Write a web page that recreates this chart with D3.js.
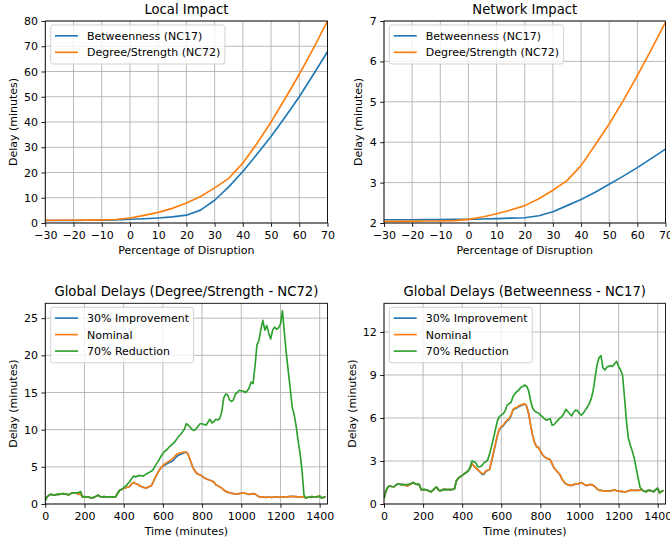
<!DOCTYPE html>
<html>
<head>
<meta charset="utf-8">
<script src="https://cdn.jsdelivr.net/npm/d3@7"></script>
<style>
  body { margin: 0; background: #fff; }
  svg { display: block; font-family: "DejaVu Sans", sans-serif; }
</style>
</head>
<body>
<svg id="fig" width="670" height="544"></svg>
<script>
// ---- data ----
var pct = [-30, -25, -20, -15, -10, -5, 0, 5, 10, 15, 20, 25, 30, 35, 40, 45, 50, 55, 60, 65, 70];
var pctTicks = [-30, -20, -10, 0, 10, 20, 30, 40, 50, 60, 70];

var localBetw = [1.0, 1.02, 1.05, 1.1, 1.15, 1.25, 1.5, 1.7, 2.0, 2.4, 3.1, 5.1, 9.0, 14.3, 20.4, 27.2, 34.3, 42.0, 50.0, 58.8, 67.8];
var localDeg = [1.05, 1.08, 1.1, 1.15, 1.25, 1.4, 2.0, 3.0, 4.2, 5.8, 7.9, 10.5, 13.9, 17.7, 23.7, 31.5, 40.0, 49.3, 58.9, 69.2, 80.0];
var localTicks = [0, 10, 20, 30, 40, 50, 60, 70, 80];

var networkBetw = [2.08, 2.08, 2.08, 2.085, 2.085, 2.09, 2.09, 2.10, 2.11, 2.12, 2.13, 2.18, 2.28, 2.43, 2.58, 2.76, 2.96, 3.16, 3.37, 3.6, 3.83];
var networkDeg = [2.04, 2.04, 2.045, 2.05, 2.05, 2.06, 2.09, 2.15, 2.23, 2.32, 2.43, 2.6, 2.81, 3.05, 3.42, 3.93, 4.45, 5.03, 5.65, 6.3, 6.97];
var networkTicks = [2, 3, 4, 5, 6, 7];

// time in minutes, one sample every 10 minutes
var times = d3.range(0, 1440, 10);
var timeTicks = [0, 200, 400, 600, 800, 1000, 1200, 1400];

var degImprove = [
  0.5, 1.0, 1.2, 1.3, 1.2, 1.2, 1.3, 1.3, 1.35, 1.4, 1.35, 1.3,
  1.25, 1.4, 1.5, 1.5, 1.45, 1.3, 1.35, 0.95, 1.0, 0.95, 0.95, 0.85,
  0.8, 0.95, 1.05, 1.2, 1.0, 0.95, 1.0, 0.95, 0.95, 0.95, 0.95, 0.95,
  1.0, 1.55, 1.85, 1.95, 2.1, 2.2, 2.25, 2.35, 2.7, 2.9, 2.75, 2.65,
  2.5, 2.35, 2.25, 2.15, 2.2, 2.35, 2.4, 2.9, 3.5, 4.0, 4.5, 4.85,
  5.1, 5.25, 5.4, 5.55, 5.65, 5.8, 6.1, 6.4, 6.55, 6.7, 6.8, 6.9,
  7.0, 6.6, 5.9, 5.1, 4.6, 4.2, 4.0, 3.9, 3.75, 3.55, 3.4, 3.3,
  3.2, 3.1, 2.95, 2.6, 2.45, 2.3, 2.15, 1.9, 1.7, 1.6, 1.5, 1.45,
  1.4, 1.35, 1.35, 1.4, 1.45, 1.5, 1.45, 1.35, 1.3, 1.35, 1.4, 1.35,
  1.15, 1.0, 0.95, 0.95, 0.9, 0.9, 0.95, 0.9, 0.9, 0.95, 0.95, 0.9,
  0.95, 0.9, 0.95, 0.95, 1.0, 1.0, 1.05, 1.0, 1.0, 0.95, 0.95, 0.95,
  0.9, 0.8, 0.9, 0.95, 1.0, 0.95, 0.9, 1.0, 1.05, 0.8, 0.9, 0.95];
var degNominal = [
  0.5, 1.0, 1.2, 1.3, 1.2, 1.2, 1.3, 1.3, 1.35, 1.4, 1.35, 1.3,
  1.25, 1.4, 1.5, 1.5, 1.45, 1.3, 1.35, 0.95, 1.0, 0.95, 0.95, 0.85,
  0.8, 0.95, 1.05, 1.2, 1.0, 0.95, 1.0, 0.95, 0.95, 0.95, 0.95, 0.95,
  1.0, 1.55, 1.85, 1.95, 2.1, 2.2, 2.25, 2.35, 2.7, 2.9, 2.75, 2.65,
  2.5, 2.35, 2.25, 2.15, 2.2, 2.35, 2.4, 2.9, 3.5, 4.0, 4.5, 4.9,
  5.2, 5.4, 5.6, 5.75, 5.9, 6.1, 6.4, 6.7, 6.8, 6.9, 6.95, 7.0,
  7.0, 6.6, 5.9, 5.1, 4.6, 4.2, 4.0, 3.9, 3.75, 3.55, 3.4, 3.3,
  3.2, 3.1, 2.95, 2.6, 2.45, 2.3, 2.15, 1.9, 1.7, 1.6, 1.5, 1.45,
  1.4, 1.35, 1.35, 1.4, 1.45, 1.5, 1.45, 1.35, 1.3, 1.35, 1.4, 1.35,
  1.15, 1.0, 0.95, 0.95, 0.9, 0.9, 0.95, 0.9, 0.9, 0.95, 0.95, 0.9,
  0.95, 0.9, 0.95, 0.95, 1.0, 1.0, 1.05, 1.0, 1.0, 0.95, 0.95, 0.95,
  0.9, 0.8, 0.9, 0.95, 1.0, 0.95, 0.9, 1.0, 1.05, 0.8, 0.9, 0.95];
var degReduce = [
  0.5, 1.0, 1.2, 1.3, 1.2, 1.2, 1.3, 1.3, 1.35, 1.4, 1.35, 1.3,
  1.25, 1.4, 1.5, 1.5, 1.5, 1.55, 1.7, 0.95, 1.0, 0.95, 0.95, 0.85,
  0.8, 0.95, 1.05, 1.2, 1.0, 0.95, 1.0, 0.95, 0.95, 0.95, 0.95, 0.95,
  1.0, 1.45, 1.85, 2.0, 2.2, 2.4, 2.7, 3.0, 3.4, 3.75, 3.65, 3.75,
  3.85, 3.8, 3.75, 3.95, 4.1, 4.25, 4.4, 4.6, 5.1, 5.5, 5.9, 6.4,
  6.8, 7.1, 7.3, 7.6, 7.85, 8.1, 8.35, 8.7, 9.1, 9.35, 9.7, 10.1,
  10.8, 10.6, 10.3, 10.0, 9.9, 10.1, 10.5, 10.8, 10.8, 10.7, 10.6, 11.0,
  11.4, 10.9, 11.1, 11.4, 11.3, 11.5, 12.3, 14.2, 14.8, 14.7, 14.0, 13.8,
  14.0, 14.8, 15.0, 15.3, 15.2, 15.2, 15.0, 15.2, 15.6, 16.4, 16.2, 18.5,
  21.4, 22.0, 23.5, 24.7, 23.4, 24.0, 23.0, 22.2, 23.4, 23.8, 23.5, 23.7,
  24.2, 26.0, 23.0, 20.2, 17.8, 15.5, 13.0, 12.0, 10.5, 8.5, 6.8, 4.5,
  1.2, 0.8, 0.9, 0.95, 1.0, 0.95, 0.9, 1.0, 1.05, 0.8, 0.9, 0.95];
var degTicks = [0, 5, 10, 15, 20, 25];

var betImprove = [
  0.4, 0.9, 1.2, 1.25, 1.22, 1.2, 1.3, 1.4, 1.38, 1.35, 1.35, 1.3,
  1.25, 1.35, 1.42, 1.5, 1.4, 1.37, 1.37, 1.0, 1.0, 1.0, 0.97, 0.9,
  0.85, 0.95, 1.1, 1.18, 0.95, 0.92, 1.0, 1.02, 1.0, 1.0, 1.0, 1.02,
  1.05, 1.6, 1.8, 1.9, 2.0, 2.1, 2.2, 2.3, 2.5, 2.8, 2.65, 2.5,
  2.4, 2.25, 2.1, 2.05, 2.25, 2.35, 2.4, 2.95, 3.55, 4.15, 4.75, 5.2,
  5.35, 5.45, 5.65, 5.8, 5.9, 6.15, 6.55, 6.65, 6.7, 6.8, 6.85, 6.9,
  7.0, 6.8, 6.3, 5.5, 4.8, 4.3, 4.0, 3.95, 3.7, 3.45, 3.3, 3.2,
  3.15, 3.1, 2.8, 2.5, 2.35, 2.2, 2.05, 1.75, 1.55, 1.4, 1.35, 1.3,
  1.3, 1.35, 1.4, 1.4, 1.45, 1.5, 1.4, 1.3, 1.3, 1.35, 1.35, 1.3,
  1.2, 1.05, 0.95, 0.95, 0.92, 0.9, 0.9, 0.9, 0.92, 0.95, 0.98, 0.92,
  0.9, 0.88, 0.86, 0.84, 0.86, 0.92, 0.95, 0.95, 0.95, 0.95, 0.95, 0.97,
  0.98, 0.9, 0.85, 0.95, 0.95, 0.9, 0.85, 1.0, 1.1, 0.78, 0.88, 0.95];
var betNominal = [
  0.4, 0.9, 1.2, 1.25, 1.22, 1.2, 1.3, 1.4, 1.38, 1.35, 1.35, 1.3,
  1.25, 1.35, 1.42, 1.5, 1.4, 1.37, 1.37, 1.0, 1.0, 1.0, 0.97, 0.9,
  0.85, 0.95, 1.1, 1.18, 0.95, 0.92, 1.0, 1.02, 1.0, 1.0, 1.0, 1.02,
  1.05, 1.6, 1.8, 1.9, 2.0, 2.1, 2.2, 2.3, 2.5, 2.8, 2.65, 2.5,
  2.4, 2.25, 2.15, 2.1, 2.3, 2.35, 2.4, 3.0, 3.6, 4.2, 4.8, 5.25,
  5.4, 5.5, 5.7, 5.85, 5.95, 6.2, 6.6, 6.7, 6.75, 6.85, 6.9, 6.95,
  7.0, 6.8, 6.3, 5.5, 4.8, 4.3, 4.0, 3.95, 3.7, 3.45, 3.3, 3.2,
  3.15, 3.1, 2.8, 2.5, 2.35, 2.2, 2.05, 1.75, 1.55, 1.4, 1.35, 1.3,
  1.3, 1.35, 1.4, 1.4, 1.45, 1.5, 1.4, 1.3, 1.3, 1.35, 1.35, 1.3,
  1.2, 1.05, 0.95, 0.95, 0.92, 0.9, 0.9, 0.9, 0.92, 0.95, 0.98, 0.92,
  0.9, 0.88, 0.86, 0.84, 0.86, 0.92, 0.95, 0.95, 0.95, 0.95, 0.95, 0.97,
  0.98, 0.9, 0.85, 0.95, 0.95, 0.9, 0.85, 1.0, 1.1, 0.78, 0.88, 0.95];
var betReduce = [
  0.4, 0.9, 1.2, 1.25, 1.22, 1.2, 1.3, 1.4, 1.38, 1.35, 1.35, 1.35,
  1.35, 1.4, 1.42, 1.5, 1.4, 1.37, 1.37, 1.0, 1.0, 1.0, 0.97, 0.9,
  0.85, 0.95, 1.1, 1.18, 0.95, 0.92, 1.0, 1.02, 1.0, 1.0, 1.0, 1.02,
  1.05, 1.6, 1.8, 1.9, 2.0, 2.1, 2.2, 2.3, 2.55, 3.0, 2.95, 2.85,
  2.6, 2.6, 2.65, 2.85, 2.95, 3.05, 3.5, 4.0, 4.6, 5.2, 5.8, 6.1,
  6.2, 6.3, 6.5, 6.9, 7.0, 7.1, 7.5, 7.7, 7.85, 7.95, 8.15, 8.2,
  8.3, 8.2, 7.9, 7.2, 6.7, 6.5, 6.4, 6.35, 6.2, 6.1, 5.95, 5.85,
  5.9, 5.95, 5.5, 5.55, 5.7, 5.85, 6.0, 6.1, 6.3, 6.6, 6.45, 6.3,
  6.15, 6.4, 6.55, 6.5, 6.3, 6.2, 6.35, 6.55, 6.75, 7.0, 7.35, 7.9,
  8.85, 9.7, 10.2, 10.35, 9.5, 9.35, 9.55, 9.6, 9.65, 9.6, 9.8, 9.95,
  9.6, 9.35, 9.0, 7.5, 5.8, 4.6, 4.1, 3.7, 3.2, 2.5, 1.8, 1.15,
  1.0, 0.9, 0.85, 0.95, 0.95, 0.9, 0.85, 1.0, 1.1, 0.78, 0.88, 0.95];
var betTicks = [0, 3, 6, 9, 12];

var blue = "#1f77b4", orange = "#ff7f0e", green = "#2ca02c";

var svg = d3.select("#fig");
var fmt = d3.format("d");
var clipId = 0;

function panel(o) {
  var g = svg.append("g");
  var x = d3.scaleLinear().domain(o.xDomain).range([o.left, o.right]);
  var y = d3.scaleLinear().domain(o.yDomain).range([o.bottom, o.top]);

  // grid
  var grid = g.append("g").attr("stroke", "#b0b0b0").attr("stroke-width", 0.88);
  grid.selectAll(".gx").data(o.xTicks).join("line")
    .attr("x1", d => x(d)).attr("x2", d => x(d))
    .attr("y1", o.top).attr("y2", o.bottom);
  grid.selectAll(".gy").data(o.yTicks).join("line")
    .attr("x1", o.left).attr("x2", o.right)
    .attr("y1", d => y(d)).attr("y2", d => y(d));

  // series
  var id = "clip" + (clipId++);
  g.append("clipPath").attr("id", id).append("rect")
    .attr("x", o.left).attr("y", o.top)
    .attr("width", o.right - o.left).attr("height", o.bottom - o.top);
  var line = d3.line().x(d => x(d[0])).y(d => y(d[1]));
  var lines = g.append("g").attr("clip-path", "url(#" + id + ")");
  o.series.forEach(function(s) {
    lines.append("path")
      .datum(o.xs.map((v, i) => [v, s.values[i]]))
      .attr("fill", "none").attr("stroke", s.color)
      .attr("stroke-width", 1.65).attr("stroke-linejoin", "round")
      .attr("d", line);
  });

  // axes
  var ax = g.append("g").attr("transform", "translate(0," + o.bottom + ")")
    .call(d3.axisBottom(x).tickValues(o.xTicks).tickFormat(fmt).tickSize(3.85).tickSizeOuter(0).tickPadding(4.3));
  var ay = g.append("g").attr("transform", "translate(" + o.left + ",0)")
    .call(d3.axisLeft(y).tickValues(o.yTicks).tickFormat(fmt).tickSize(3.85).tickSizeOuter(0).tickPadding(3.5));
  [ax, ay].forEach(function(a) {
    a.attr("font-family", null).attr("font-size", 11);
    a.select(".domain").remove();
    a.selectAll(".tick line").attr("stroke", "#000").attr("stroke-width", 0.88);
    a.selectAll(".tick text").attr("fill", "#000");
  });

  g.append("rect")
    .attr("x", o.left).attr("y", o.top)
    .attr("width", o.right - o.left).attr("height", o.bottom - o.top)
    .attr("fill", "none").attr("stroke", "#000").attr("stroke-width", 0.88);

  // labels
  g.append("text").attr("x", (o.left + o.right) / 2).attr("y", o.top - o.titleGap)
    .attr("text-anchor", "middle").attr("font-size", 13.2).text(o.title);
  g.append("text").attr("x", (o.left + o.right) / 2).attr("y", o.bottom + 31)
    .attr("text-anchor", "middle").attr("font-size", 11).text(o.xLabel);
  g.append("text")
    .attr("transform", "translate(" + o.yLabelX + "," + ((o.top + o.bottom) / 2) + ") rotate(-90)")
    .attr("text-anchor", "middle").attr("dy", "0.36em").attr("font-size", 11).text(o.yLabel);

  // legend
  var lg = g.append("g").attr("transform", "translate(" + (o.left + 5.4) + "," + (o.top + 4) + ")");
  var box = lg.append("rect").attr("rx", 2.5)
    .attr("fill", "#fff").attr("fill-opacity", 0.8)
    .attr("stroke", "#cccccc").attr("stroke-width", 0.88);
  var maxW = 0;
  o.series.forEach(function(s, i) {
    var cy = 10.8 + i * 16.5;
    lg.append("line").attr("x1", 4.3).attr("x2", 27.3).attr("y1", cy).attr("y2", cy)
      .attr("stroke", s.color).attr("stroke-width", 1.65);
    var t = lg.append("text").attr("x", 36.3).attr("y", cy + 4)
      .attr("font-size", 11).text(s.name);
    maxW = Math.max(maxW, t.node().getComputedTextLength());
  });
  box.attr("width", 36.3 + maxW + 4.6).attr("height", o.series.length * 16.5 + 6);
}

var col1 = { left: 45.3, right: 327.5 };
var col2 = { left: 384, right: 665.5 };
var row1 = { top: 21, bottom: 223 };
var row2 = { top: 303.3, bottom: 504 };

panel(Object.assign({}, col1, row1, {
  title: "Local Impact", titleGap: 6.7, xLabel: "Percentage of Disruption", yLabel: "Delay (minutes)", yLabelX: 12.6,
  xs: pct, xDomain: [-30, 70], yDomain: [0, 80], xTicks: pctTicks, yTicks: localTicks,
  series: [
    { name: "Betweenness (NC17)", values: localBetw, color: blue },
    { name: "Degree/Strength (NC72)", values: localDeg, color: orange }
  ]
}));

panel(Object.assign({}, col2, row1, {
  title: "Network Impact", titleGap: 6.7, xLabel: "Percentage of Disruption", yLabel: "Delay (minutes)", yLabelX: 358.2,
  xs: pct, xDomain: [-30, 70], yDomain: [2, 7], xTicks: pctTicks, yTicks: networkTicks,
  series: [
    { name: "Betweenness (NC17)", values: networkBetw, color: blue },
    { name: "Degree/Strength (NC72)", values: networkDeg, color: orange }
  ]
}));

panel(Object.assign({}, col1, row2, {
  title: "Global Delays (Degree/Strength - NC72)", titleGap: 7.5, xLabel: "Time (minutes)", yLabel: "Delay (minutes)", yLabelX: 12.6,
  xs: times, xDomain: [0, 1440], yDomain: [0, 27], xTicks: timeTicks, yTicks: degTicks,
  series: [
    { name: "30% Improvement", values: degImprove, color: blue },
    { name: "Nominal", values: degNominal, color: orange },
    { name: "70% Reduction", values: degReduce, color: green }
  ]
}));

panel(Object.assign({}, col2, row2, {
  title: "Global Delays (Betweenness - NC17)", titleGap: 7.5, xLabel: "Time (minutes)", yLabel: "Delay (minutes)", yLabelX: 351.7,
  xs: times, xDomain: [0, 1440], yDomain: [0, 14], xTicks: timeTicks, yTicks: betTicks,
  series: [
    { name: "30% Improvement", values: betImprove, color: blue },
    { name: "Nominal", values: betNominal, color: orange },
    { name: "70% Reduction", values: betReduce, color: green }
  ]
}));
</script>
</body>
</html>
